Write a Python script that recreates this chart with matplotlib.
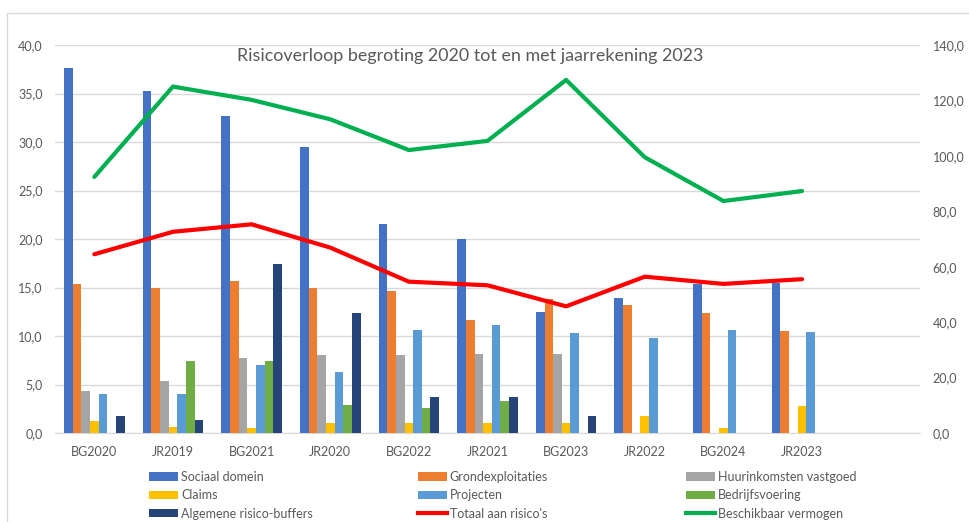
import matplotlib
matplotlib.use("Agg")
import matplotlib.pyplot as plt
from matplotlib.patches import Rectangle, Patch
from matplotlib.lines import Line2D
from matplotlib.ticker import FuncFormatter, MultipleLocator
import numpy as np

plt.rcParams['font.family'] = ['Lato', 'DejaVu Sans']

categories = ["BG2020", "JR2019", "BG2021", "JR2020", "BG2022", "JR2021",
              "BG2023", "JR2022", "BG2024", "JR2023", ""]

sociaal_domein = [37.6, 35.3, 32.7, 29.5, 21.5, 20.0, 12.5, 13.9, 15.4, 15.5, 0]
grondexploitaties = [15.4, 15.0, 15.7, 15.0, 14.6, 11.7, 13.8, 13.2, 12.4, 10.5, 0]
huurinkomsten = [4.3, 5.4, 7.7, 8.0, 8.0, 8.1, 8.1, 0, 0, 0, 0]
claims = [1.2, 0.6, 0.5, 1.0, 1.0, 1.0, 1.0, 1.8, 0.5, 2.8, 0]
projecten = [4.0, 4.0, 7.0, 6.3, 10.6, 11.1, 10.3, 9.8, 10.6, 10.4, 0]
bedrijfsvoering = [0, 7.4, 7.4, 2.9, 2.6, 3.3, 0, 0, 0, 0, 0]
algemene_buffers = [1.8, 1.3, 17.4, 12.4, 3.7, 3.7, 1.8, 0, 0, 0, 0]

totaal_risicos = [64.5, 72.6, 75.3, 66.9, 54.6, 53.3, 45.7, 56.4, 53.8, 55.5]
beschikbaar_vermogen = [92.4, 125.0, 120.2, 113.2, 102.1, 105.4, 127.4, 99.5, 83.7, 87.3]

bar_series = [
    ("Sociaal domein", sociaal_domein, "#4472C4"),
    ("Grondexploitaties", grondexploitaties, "#ED7D31"),
    ("Huurinkomsten vastgoed", huurinkomsten, "#A5A5A5"),
    ("Claims", claims, "#FFC000"),
    ("Projecten", projecten, "#5B9BD5"),
    ("Bedrijfsvoering", bedrijfsvoering, "#70AD47"),
    ("Algemene risico-buffers", algemene_buffers, "#264478"),
]
line_series = [
    ("Totaal aan risico's", totaal_risicos, "#FF0000"),
    ("Beschikbaar vermogen", beschikbaar_vermogen, "#00B050"),
]

W, H = 970, 522
fig = plt.figure(figsize=(W / 100, H / 100), dpi=100)
fig.patch.set_facecolor("white")

# outer chart border
fig.add_artist(Rectangle((7 / W, -0.01), 1.0, 1 - 13 / H + 0.01,
                         transform=fig.transFigure, fill=False,
                         edgecolor="#d9d9d9", linewidth=1.0))

left, right, bottom, top = 55 / W, 920 / W, 1 - 433 / H, 1 - 45 / H
ax = fig.add_axes([left, bottom, right - left, top - bottom])
ax2 = ax.twinx()

txt_color = "#595959"
grid_color = "#d9d9d9"

x = np.arange(len(categories))
bw = 0.11
n = len(bar_series)
for i, (name, vals, col) in enumerate(bar_series):
    ax.bar(x + (i - (n - 1) / 2) * bw, vals, width=bw, color=col,
           label=name, zorder=3, linewidth=0)

xl = np.arange(len(totaal_risicos))
for name, vals, col in line_series:
    ax2.plot(xl, vals, color=col, linewidth=3.0, label=name,
             solid_capstyle='round', zorder=4)

ax.set_xlim(-0.5, len(categories) - 0.5)
ax.set_ylim(0, 40)
ax2.set_ylim(0, 140)
ax.yaxis.set_major_locator(MultipleLocator(5))
ax2.yaxis.set_major_locator(MultipleLocator(20))
fmt = FuncFormatter(lambda v, p: f"{v:.1f}".replace(".", ","))
ax.yaxis.set_major_formatter(fmt)
ax2.yaxis.set_major_formatter(fmt)

ax.set_xticks(x)
ax.set_xticklabels(categories)

ax.grid(axis='y', color=grid_color, linewidth=1.0, zorder=0)
ax.set_axisbelow(True)
for a in (ax, ax2):
    for s in a.spines.values():
        s.set_visible(False)
    a.tick_params(length=0, colors=txt_color, labelsize=9)
ax.spines['bottom'].set_visible(True)
ax.spines['bottom'].set_color(grid_color)
ax.tick_params(axis='y', pad=9)
ax2.tick_params(axis='y', pad=9)
ax.tick_params(axis='x', pad=9)

fig.text(470 / W, 1 - 56 / H, "Risicoverloop begroting 2020 tot en met jaarrekening 2023",
         ha='center', va='center', fontsize=12.9, color=txt_color)

# legend: three columns
handles = []
for name, vals, col in bar_series:
    handles.append(Patch(facecolor=col, edgecolor='none', label=name))
for name, vals, col in line_series:
    handles.append(Line2D([0], [0], color=col, linewidth=3.0, label=name))
order = [[0, 3, 6], [1, 4, 7], [2, 5, 8]]
col_x = [149, 418, 686]
for cx, idx in zip(col_x, order):
    leg = fig.legend([handles[k] for k in idx], [handles[k].get_label() for k in idx],
                     loc='upper left', bbox_to_anchor=(cx / W, 1 - 471 / H),
                     frameon=False, fontsize=9, handlelength=2.3, handleheight=0.65,
                     handletextpad=0.25, labelspacing=0.5, borderpad=0, borderaxespad=0)
    for t in leg.get_texts():
        t.set_color(txt_color)

fig.savefig("out.png", dpi=100, facecolor="white")
